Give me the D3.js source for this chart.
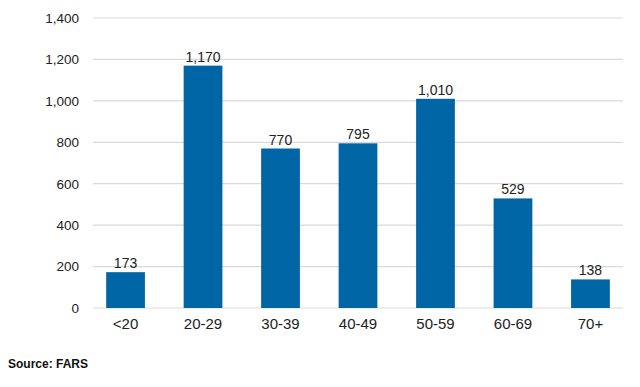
<!DOCTYPE html>
<html><head><meta charset="utf-8">
<script src="https://cdn.jsdelivr.net/npm/d3@7"></script>
<style>body{margin:0;background:#fff;}svg{display:block;font-family:"Liberation Sans",Arial,sans-serif;}</style>
</head><body>
<svg id="c" width="640" height="387"></svg>
<script>
const categories = ["<20","20-29","30-39","40-49","50-59","60-69","70+"];
const values = [173,1170,770,795,1010,529,138];
const yTicks = [0,200,400,600,800,1000,1200,1400];
const sourceText = "Source: FARS";

const svg = d3.select("#c");
const x = d3.scaleBand().domain(categories).range([93,623]).paddingInner(0.5).paddingOuter(0.17);
const y = d3.scaleLinear().domain([0,1400]).range([308,18]);
const fmt = d3.format(",");

const grid = svg.append("g");
grid.selectAll("line").data(yTicks).join("line")
  .attr("x1",93).attr("x2",623)
  .attr("y1",d=>y(d)).attr("y2",d=>y(d))
  .attr("stroke","#d9d9d9").attr("stroke-width",1.2);

const yAxis = svg.append("g").attr("transform","translate(79,0)")
  .call(d3.axisLeft(y).tickValues(yTicks).tickFormat(fmt).tickSize(0).tickPadding(0));
yAxis.select(".domain").remove();
yAxis.selectAll("text").attr("font-size",13.5).attr("fill","#222").attr("font-family","Liberation Sans, Arial, sans-serif");

svg.append("g").selectAll("rect").data(values).join("rect")
  .attr("x",(d,i)=>x(categories[i])).attr("width",x.bandwidth())
  .attr("y",d=>y(d)).attr("height",d=>y(0)-y(d))
  .attr("fill","#0065a5");

svg.append("g").selectAll("text").data(values).join("text")
  .attr("x",(d,i)=>x(categories[i])+x.bandwidth()/2)
  .attr("y",d=>y(d)-4)
  .attr("text-anchor","middle").attr("font-size",14).attr("fill","#222")
  .text(d=>fmt(d));

const xAxis = svg.append("g").attr("transform","translate(0,308)")
  .call(d3.axisBottom(x).tickSize(0).tickPadding(10));
xAxis.select(".domain").remove();
xAxis.selectAll("text").attr("font-size",15).attr("fill","#222").attr("font-family","Liberation Sans, Arial, sans-serif");

svg.append("text").attr("x",8).attr("y",368).attr("font-size",12).attr("font-weight","bold").attr("fill","#111").text(sourceText);
</script>
</body></html>
